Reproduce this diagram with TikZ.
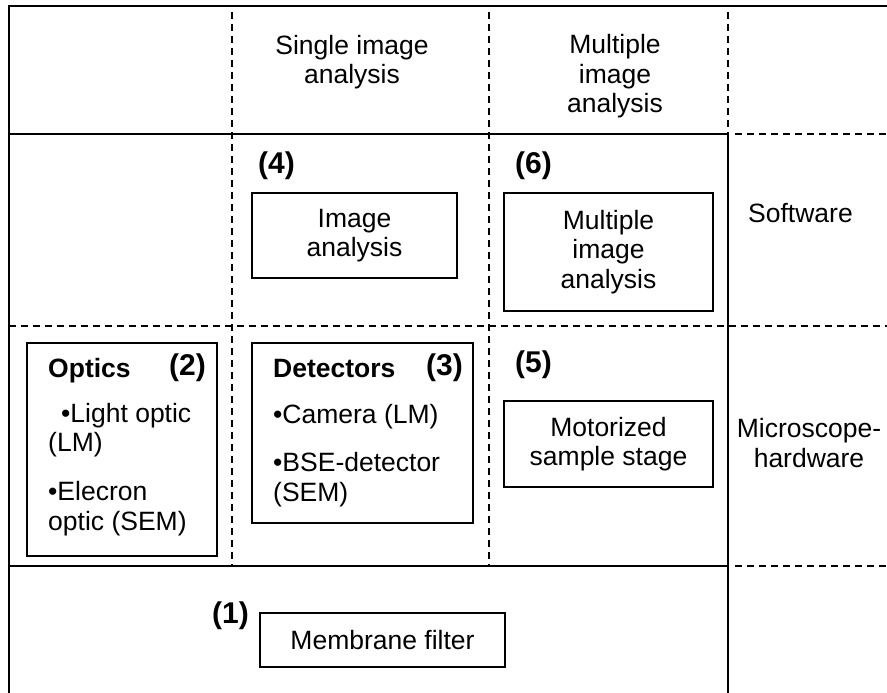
\documentclass[tikz,border=0pt]{standalone}
\usepackage{fontspec}
\setmainfont{Liberation Sans}
\newcommand{\bodyfont}{\fontsize{26.5}{29.5}\selectfont}
\newcommand{\numfont}{\fontsize{30}{33}\selectfont\bfseries}
\begin{document}
\begin{tikzpicture}[x=1pt,y=-1pt,
  frame/.style={line width=1.8pt},
  gridline/.style={line width=1.4pt, dash pattern=on 7pt off 5pt},
  box/.style={draw, line width=1.6pt, inner sep=0pt, align=center, font=\bodyfont},
  head/.style={inner sep=0pt, font=\bodyfont\bfseries},
  num/.style={inner sep=0pt, font=\numfont},
  txt/.style={inner sep=0pt, align=center, font=\bodyfont},
  ]
\useasboundingbox (0,0) rectangle (887,693);

% table frame and solid separators
\draw[frame] (9,693) -- (9,6) -- (887,6);
\draw[frame] (9,134) -- (728,134);
\draw[frame] (9,566) -- (728,566);
\draw[frame] (728,134) -- (728,693);

% dashed separators
\draw[gridline] (728,12) -- (728,134);
\draw[gridline] (232,12) -- (232,566);
\draw[gridline] (489,12) -- (489,566);
\draw[gridline] (9,326) -- (887,326);
\draw[gridline] (735,134) -- (887,134);
\draw[gridline] (735,566) -- (887,566);

% column and row headings (base anchor sits on the last line)
\node[txt, anchor=base] (colsingle) at (352,84) {Single image\\analysis};
\node[txt, anchor=base] (colmulti) at (615,113) {Multiple\\image\\analysis};
\node[txt, anchor=base west] (rowsoft) at (748,222) {Software};
\node[txt, anchor=base] (rowhard) at (809,467) {Microscope-\\hardware};

% software row
\node[num, anchor=base west] (n4) at (258,173) {(4)};
\node[box, minimum width=205pt, minimum height=85pt] (imgan) at (354.5,235.5) {Image\\analysis};
\node[num, anchor=base west] (n6) at (515,173) {(6)};
\node[box, minimum width=209pt, minimum height=118pt] (multian) at (608.5,252) {Multiple\\image\\analysis};

% hardware row
\node[box, minimum width=190pt, minimum height=213pt] (optics) at (122,449.5) {};
\node[head, anchor=base west] (opthead) at (48,377) {Optics};
\node[num, anchor=base east] (n2) at (206,375) {(2)};
\node[txt, anchor=base west, align=left] (optlist) at (48,530)
  {\hspace*{13pt}•Light optic\\(LM)\\[19.5pt]•Elecron\\optic (SEM)};

\node[box, minimum width=221pt, minimum height=180pt] (detectors) at (362.5,433) {};
\node[head, anchor=base west] (dethead) at (273,377) {Detectors};
\node[num, anchor=base east] (n3) at (463,375) {(3)};
\node[txt, anchor=base west, align=left] (detlist) at (273,501)
  {•Camera (LM)\\[18.5pt]•BSE-detector\\(SEM)};

\node[num, anchor=base west] (n5) at (515,372) {(5)};
\node[box, minimum width=209pt, minimum height=86pt] (stage) at (608.5,444) {Motorized\\sample stage};

% sample row
\node[num, anchor=base west] (n1) at (212,623) {(1)};
\node[box, minimum width=245pt, minimum height=54pt] (filter) at (382.5,640) {Membrane filter};
\end{tikzpicture}
\end{document}
